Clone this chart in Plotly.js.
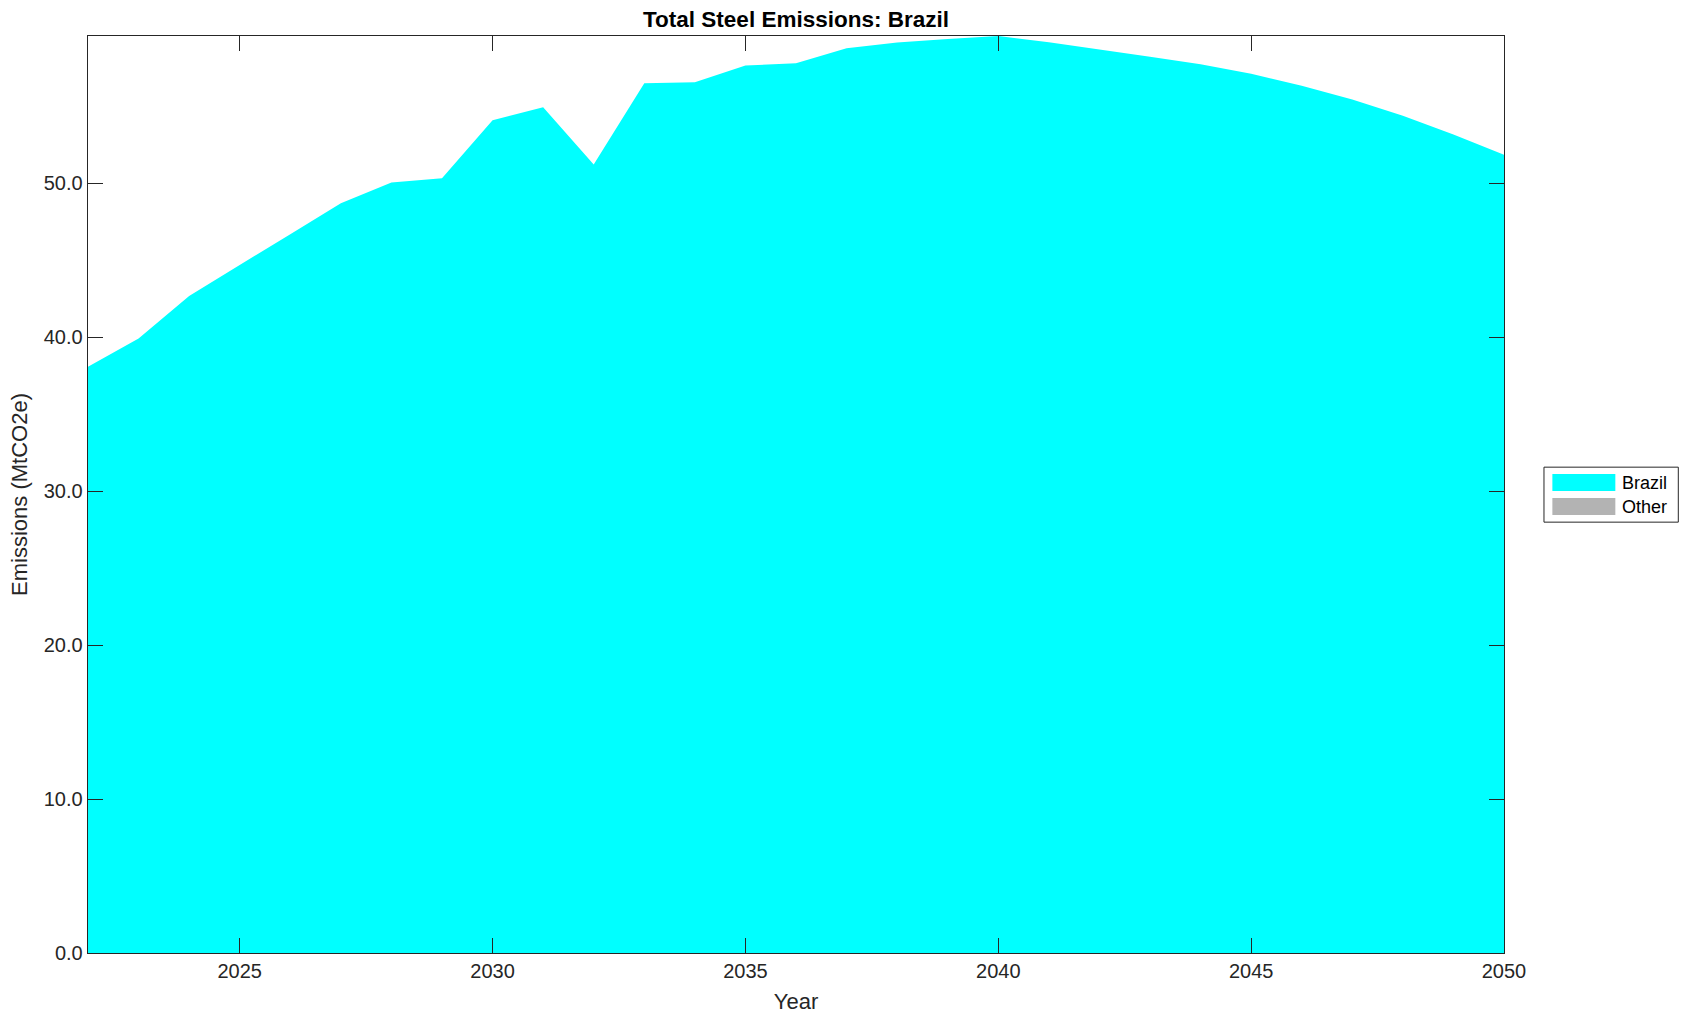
<!DOCTYPE html>
<html>
<head>
<meta charset="utf-8">
<script src="https://cdn.plot.ly/plotly-3.0.1.min.js"></script>
<style>html,body{margin:0;padding:0;background:#fff;}#chart{width:1689px;height:1021px;}</style>
</head>
<body>
<div id="chart"></div>
<script>
// ---- data ----
const years = [2022, 2023, 2024, 2025, 2026, 2027, 2028, 2029, 2030, 2031, 2032, 2033, 2034, 2035,
               2036, 2037, 2038, 2039, 2040, 2041, 2042, 2043, 2044, 2045, 2046, 2047, 2048, 2049, 2050];
const brazil = [38.07, 39.91, 42.68, 44.71, 46.69, 48.70, 50.04, 50.32, 54.09, 54.94, 51.21, 56.49, 56.56, 57.64,
                57.79, 58.77, 59.13, 59.37, 59.56, 59.15, 58.70, 58.22, 57.72, 57.10, 56.33, 55.44, 54.38, 53.17, 51.84];
const other  = [0, 0, 0, 0, 0, 0, 0, 0, 0, 0, 0, 0, 0, 0,
                0, 0, 0, 0, 0, 0, 0, 0, 0, 0, 0, 0, 0, 0, 0];
const seriesNames = ['Brazil', 'Other'];
const seriesColors = ['#00ffff', '#b3b3b3'];
const xTicks = [2025, 2030, 2035, 2040, 2045, 2050];
const yTicks = [0, 10, 20, 30, 40, 50];
const titleText = 'Total Steel Emissions: Brazil';
const xTitle = 'Year';
const yTitle = 'Emissions (MtCO2e)';

const FONT = 'Liberation Sans, Arial, Helvetica, sans-serif';
const AX = '#262626';

const traces = [
  {x: years, y: brazil, name: seriesNames[0], type: 'scatter', mode: 'lines', stackgroup: 'one',
   line: {width: 0, color: seriesColors[0]}, fillcolor: seriesColors[0], showlegend: false, hoverinfo: 'x+y+name'},
  {x: years, y: other, name: seriesNames[1], type: 'scatter', mode: 'lines', stackgroup: 'one',
   line: {width: 0, color: seriesColors[1]}, fillcolor: seriesColors[1], showlegend: false, hoverinfo: 'x+y+name'}
];

// custom legend (box, swatches, labels) in pixel-derived paper coords
const W = 1689, H = 1021;
const m = {l: 87.5, r: 1689 - 1504.3, t: 36, b: 1021 - 953.3};
const pw = W - m.l - m.r, ph = H - m.t - m.b;
const px = (x) => (x - m.l) / pw;
const py = (y) => (H - m.b - y) / ph;

const shapes = [
  {type: 'rect', xref: 'paper', yref: 'paper', x0: px(1544.3), x1: px(1678.7), y0: py(467.3), y1: py(522.3),
   line: {color: AX, width: 1}, fillcolor: '#ffffff'}
];
const annotations = [];
const rowY = [482.7, 506.7];
seriesNames.forEach((n, i) => {
  shapes.push({type: 'rect', xref: 'paper', yref: 'paper', x0: px(1552.7), x1: px(1615.7),
    y0: py(rowY[i] - 8.5), y1: py(rowY[i] + 8.5), line: {width: 0}, fillcolor: seriesColors[i]});
  annotations.push({xref: 'paper', yref: 'paper', x: px(1620), y: py(rowY[i]), text: n, showarrow: false,
    xanchor: 'left', yanchor: 'middle', font: {family: FONT, size: 18, color: '#000'}});
});

const layout = {
  width: W, height: H,
  margin: {l: m.l, r: m.r, t: m.t, b: m.b, pad: 0},
  paper_bgcolor: '#fff', plot_bgcolor: '#fff',
  showlegend: false,
  title: {text: titleText, font: {family: FONT, size: 22.5, color: '#000', weight: 'bold'},
          xref: 'paper', x: 0.5, xanchor: 'center', yref: 'container', y: 1 - 19.5 / H, yanchor: 'middle'},
  xaxis: {range: [2022, 2050], tickvals: xTicks, ticktext: xTicks.map(String),
          ticks: 'inside', ticklen: 15, tickwidth: 1, tickcolor: AX,
          showline: true, linecolor: AX, linewidth: 1.3, mirror: 'ticks', showgrid: false, zeroline: false,
          tickfont: {family: FONT, size: 20, color: AX},
          title: {text: xTitle, font: {family: FONT, size: 22, color: AX}, standoff: 12}},
  yaxis: {range: [0, 59.56], tickvals: yTicks, tickformat: '.1f',
          ticks: 'inside', ticklen: 15, tickwidth: 1, tickcolor: AX,
          showline: true, linecolor: AX, linewidth: 1.3, mirror: 'ticks', showgrid: false, zeroline: false,
          tickfont: {family: FONT, size: 20, color: AX},
          title: {text: yTitle, font: {family: FONT, size: 22, color: AX}, standoff: 10}},
  shapes: shapes,
  annotations: annotations
};

Plotly.newPlot('chart', traces, layout, {displayModeBar: false, staticPlot: true});
</script>
</body>
</html>
